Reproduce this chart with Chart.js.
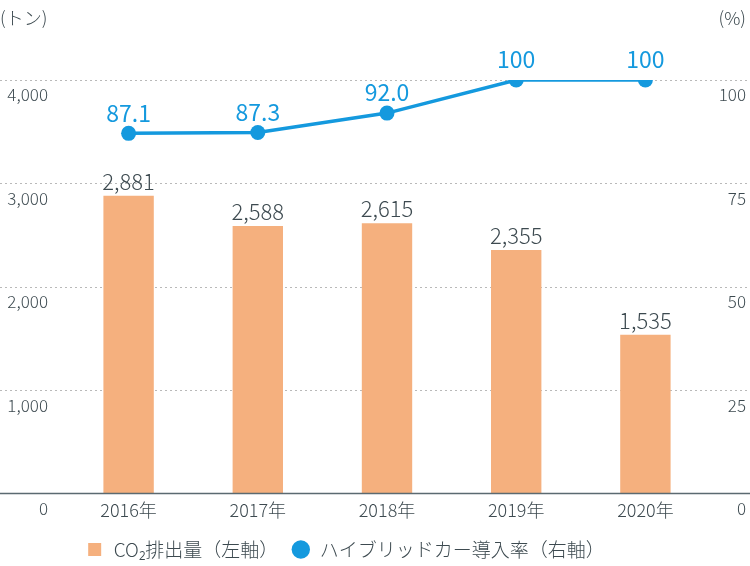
<!DOCTYPE html>
<html>
<head>
<meta charset="utf-8">
<script src="https://cdn.jsdelivr.net/npm/chart.js@4.4.1/dist/chart.umd.min.js"></script>
<style>
  body { margin: 0; background: #fff; }
  #wrap { width: 750px; height: 566px; }
</style>
</head>
<body>
<div id="wrap"><canvas id="chart1" width="750" height="566"></canvas></div>
<script>
const years = ["2016年", "2017年", "2018年", "2019年", "2020年"];
const co2Values = [2881, 2588, 2615, 2355, 1535];
const hybridRates = [87.1, 87.3, 92.0, 100, 100];
const leftTicks = [0, 1000, 2000, 3000, 4000];
const rightTicks = [0, 25, 50, 75, 100];

const FONT = '"Noto Sans CJK JP", "Noto Sans", sans-serif';
const TEXT = "#3d4a50";
const ORANGE = "#f5b07e";
const BLUE = "#1499de";

// dotted grid, baseline, units and value labels
const extras = {
  id: "extras",
  afterLayout(chart) {
    // legend sits a little left of centre in the original
    chart.legend.left -= 28;
    chart.legend.right -= 28;
  },
  beforeDatasetsDraw(chart) {
    const ctx = chart.ctx;
    const y = chart.scales.y;
    ctx.save();
    ctx.strokeStyle = "#b9b9b9";
    ctx.lineWidth = 1;
    ctx.setLineDash([2, 3]);
    leftTicks.slice(1).forEach(function (v) {
      const py = Math.round(y.getPixelForValue(v)) + 0.5;
      ctx.beginPath();
      ctx.moveTo(0, py);
      ctx.lineTo(chart.width, py);
      ctx.stroke();
    });
    ctx.restore();
  },
  afterDatasetsDraw(chart) {
    const ctx = chart.ctx;
    const y = chart.scales.y;
    ctx.save();
    const py = y.getPixelForValue(0);
    ctx.strokeStyle = "#5b6a71";
    ctx.lineWidth = 1.5;
    ctx.beginPath();
    ctx.moveTo(0, py);
    ctx.lineTo(chart.width, py);
    ctx.stroke();

    ctx.fillStyle = TEXT;
    ctx.font = "300 18px " + FONT;
    ctx.textBaseline = "middle";
    ctx.textAlign = "left";
    ctx.fillText("(トン)", 0, 18);
    ctx.textAlign = "right";
    ctx.fillText("(%)", 746, 18);

    // bar labels
    ctx.textAlign = "center";
    ctx.textBaseline = "bottom";
    ctx.font = "300 22px " + FONT;
    chart.getDatasetMeta(0).data.forEach(function (bar, i) {
      ctx.fillText(co2Values[i].toLocaleString("en-US"), bar.x, bar.y - 3);
    });
    // line labels
    ctx.fillStyle = BLUE;
    ctx.font = "23px " + FONT;
    chart.getDatasetMeta(1).data.forEach(function (pt, i) {
      const v = hybridRates[i];
      const txt = v === 100 ? "100" : v.toFixed(1);
      ctx.fillText(txt, pt.x, pt.y - 9);
    });
    ctx.restore();
  }
};

new Chart(document.getElementById("chart1"), {
  data: {
    labels: years,
    datasets: [
      {
        type: "bar",
        label: "CO₂排出量（左軸）",
        data: co2Values,
        backgroundColor: ORANGE,
        yAxisID: "y",
        categoryPercentage: 1,
        barPercentage: 0.39,
        order: 2
      },
      {
        type: "line",
        label: "ハイブリッドカー導入率（右軸）",
        data: hybridRates,
        borderColor: BLUE,
        backgroundColor: BLUE,
        borderWidth: 3.5,
        pointRadius: 7.5,
        pointHoverRadius: 7.5,
        pointBorderWidth: 0,
        yAxisID: "y1",
        order: 1
      }
    ]
  },
  options: {
    responsive: false,
    animation: false,
    layout: { padding: { top: 80, right: 4, left: 0, bottom: -3 } },
    plugins: {
      tooltip: { enabled: false },
      legend: {
        position: "bottom",
        labels: {
          color: TEXT,
          font: { family: FONT, size: 19, weight: "300" },
          usePointStyle: true,
          boxHeight: 13,
          padding: 13,
          generateLabels(chart) {
            return chart.data.datasets.map(function (ds, i) {
              return {
                text: ds.label,
                fillStyle: i === 0 ? ORANGE : BLUE,
                strokeStyle: i === 0 ? ORANGE : BLUE,
                lineWidth: 0,
                pointStyle: i === 0 ? "rect" : "circle",
                datasetIndex: i,
                fontColor: TEXT
              };
            });
          }
        }
      }
    },
    scales: {
      x: {
        grid: { display: false, drawTicks: false },
        border: { display: false },
        ticks: { color: TEXT, font: { family: FONT, size: 18, weight: "300" }, padding: 6 }
      },
      y: {
        position: "left",
        min: 0,
        max: 4000,
        afterFit(s) { s.width = 64; },
        afterBuildTicks(s) { s.ticks = leftTicks.map(function (v) { return { value: v }; }); },
        grid: { display: false, drawTicks: false },
        border: { display: false },
        ticks: {
          color: TEXT,
          font: { family: FONT, size: 17, weight: "300" },
          padding: 16,
          labelOffset: 15,
          callback(v) { return v.toLocaleString("en-US"); }
        }
      },
      y1: {
        position: "right",
        min: 0,
        max: 100,
        afterFit(s) { s.width = 36; },
        afterBuildTicks(s) { s.ticks = rightTicks.map(function (v) { return { value: v }; }); },
        grid: { display: false, drawTicks: false },
        border: { display: false },
        ticks: {
          color: TEXT,
          font: { family: FONT, size: 17, weight: "300" },
          crossAlign: "far",
          labelOffset: 15
        }
      }
    }
  },
  plugins: [extras]
});
</script>
</body>
</html>
